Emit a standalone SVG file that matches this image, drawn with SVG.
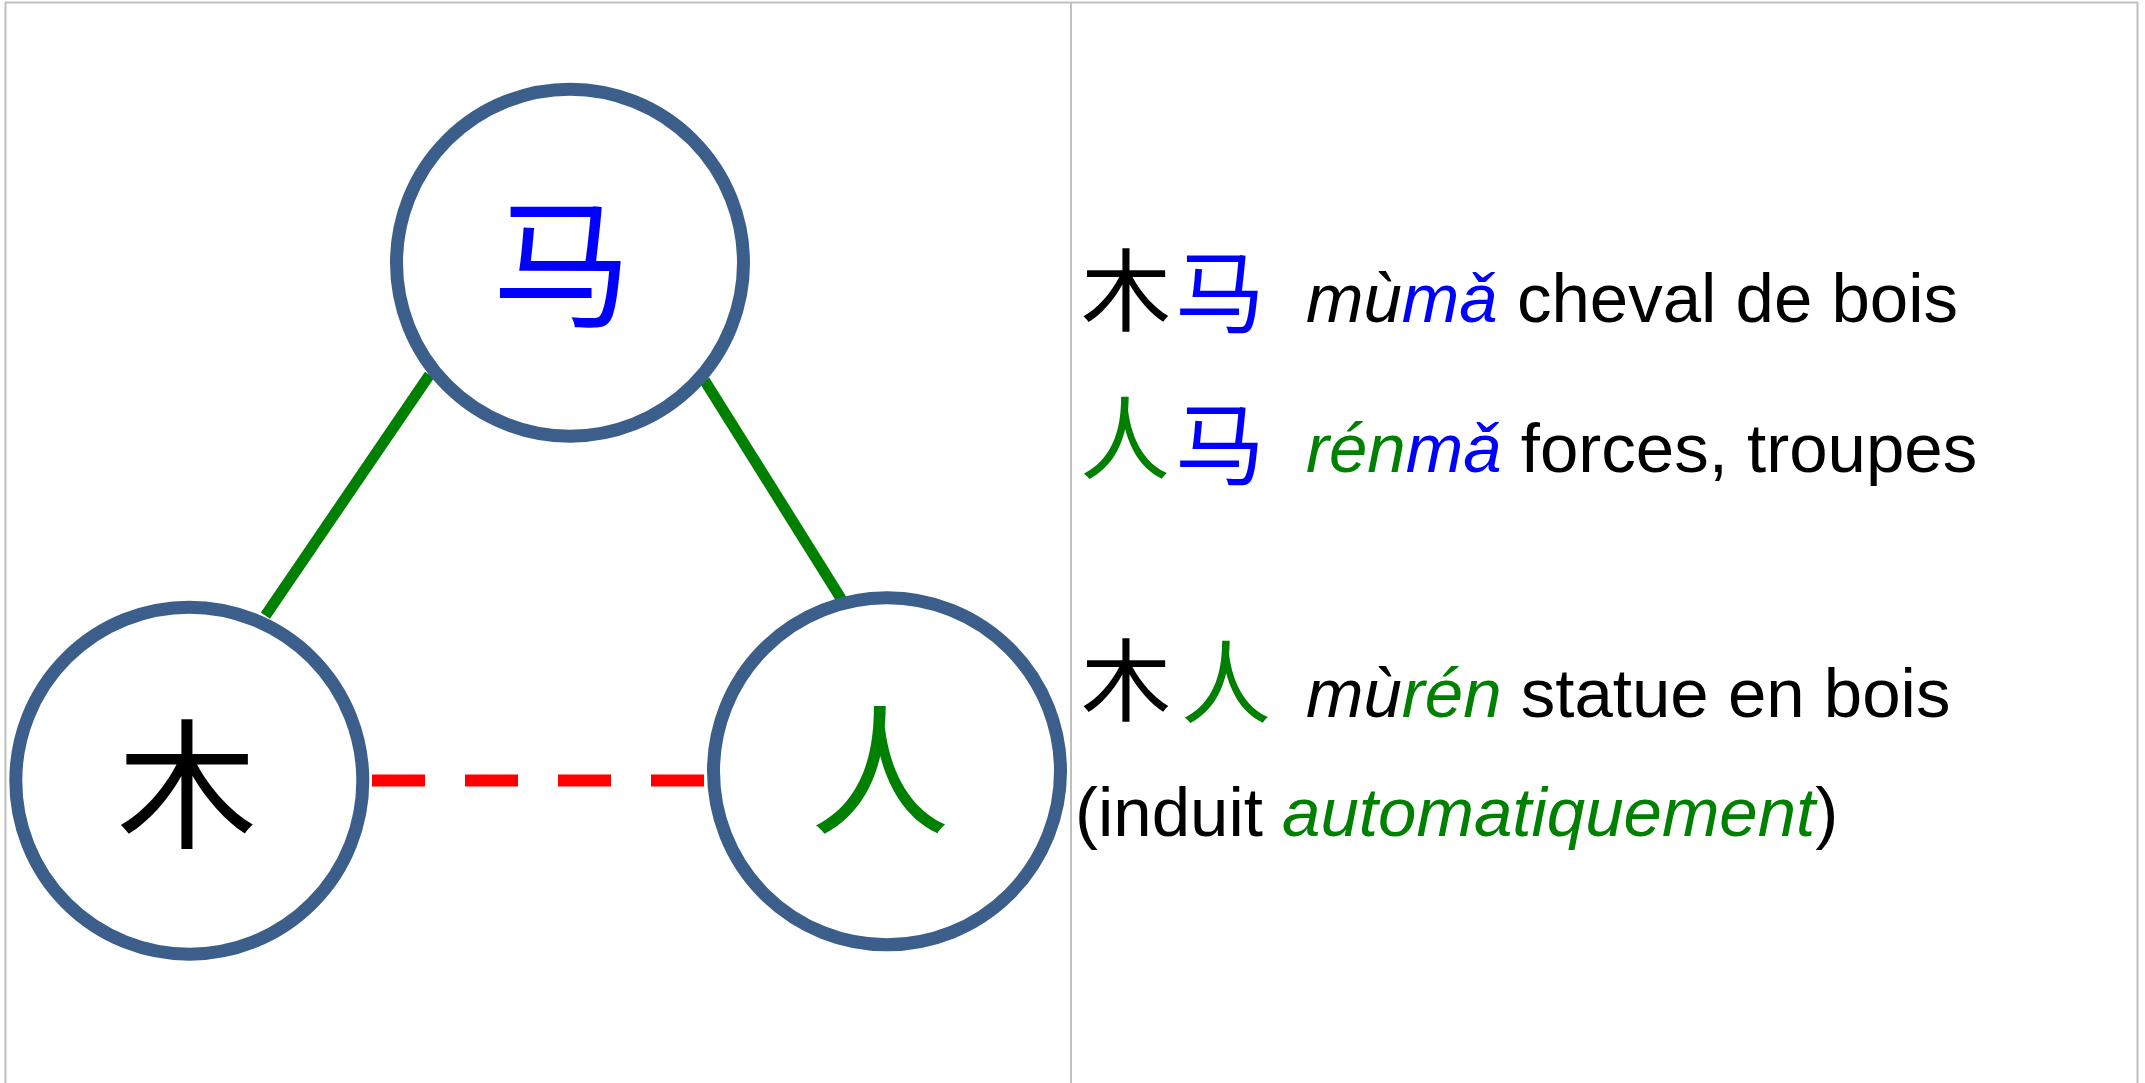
<svg xmlns="http://www.w3.org/2000/svg" width="2145" height="1083" viewBox="0 0 2145 1083">
<style>
.frame{stroke:#c0c0c0;stroke-width:2;fill:none}
.node{fill:#ffffff;stroke:#3b5f8a;stroke-width:13}
.cjk{font-family:"Noto Sans CJK SC","Noto Sans CJK JP",sans-serif;text-anchor:middle}
.big{font-size:140px}
.small{font-size:90px}
.lbl{font-family:"Liberation Sans",Arial,sans-serif;font-size:69px;fill:#000}
.it{font-style:italic}
.blue{fill:#0000ff}
.green{fill:#008000}
.black{fill:#000000}
.link{stroke:#008000;stroke-width:11;fill:none}
.induced{stroke:#ff0000;stroke-width:12;fill:none;stroke-dasharray:53 40}
</style>
<rect width="2145" height="1083" fill="#ffffff"/>
<g id="frame">
<line class="frame" x1="5" y1="2.5" x2="2138" y2="2.5" stroke-width="3"/>
<line class="frame" x1="5.5" y1="2" x2="5.5" y2="1083"/>
<line class="frame" x1="1071" y1="2" x2="1071" y2="1083"/>
<line class="frame" x1="2137.5" y1="2" x2="2137.5" y2="1083"/>
</g>
<g id="connectors">
<line class="link" x1="429.5" y1="374.8" x2="265.4" y2="615.6"/>
<line class="link" x1="704.5" y1="380.3" x2="844" y2="603.3"/>
<line class="induced" x1="372" y1="780.5" x2="706" y2="780.5"/>
</g>
<g id="node-ma">
<circle class="node" cx="570" cy="262.7" r="173.5"/>
<text class="cjk big blue" x="562" y="316">马</text>
</g>
<g id="node-mu">
<circle class="node" cx="189.3" cy="780.7" r="173.5"/>
<text class="cjk big black" x="187" y="837">木</text>
</g>
<g id="node-ren">
<circle class="node" cx="887" cy="771.3" r="173.5"/>
<text class="cjk big green" x="880" y="823">人</text>
</g>
<g id="legend">
<text class="cjk small black" x="1126" y="324">木</text>
<text class="cjk small blue" x="1220" y="326">马</text>
<text class="lbl" x="1306" y="322"><tspan class="it">mù</tspan><tspan class="it blue">mǎ</tspan> cheval de bois</text>
<text class="cjk small green" x="1125" y="472">人</text>
<text class="cjk small blue" x="1220" y="478">马</text>
<text class="lbl" x="1306" y="472"><tspan class="it green">rén</tspan><tspan class="it blue">mǎ</tspan> forces, troupes</text>
<text class="cjk small black" x="1126" y="714">木</text>
<text class="cjk small green" x="1226" y="716">人</text>
<text class="lbl" x="1306" y="717"><tspan class="it">mù</tspan><tspan class="it green">rén</tspan> statue en bois</text>
<text class="lbl" x="1075" y="836">(induit <tspan class="it green">automatiquement</tspan>)</text>
</g>
</svg>
